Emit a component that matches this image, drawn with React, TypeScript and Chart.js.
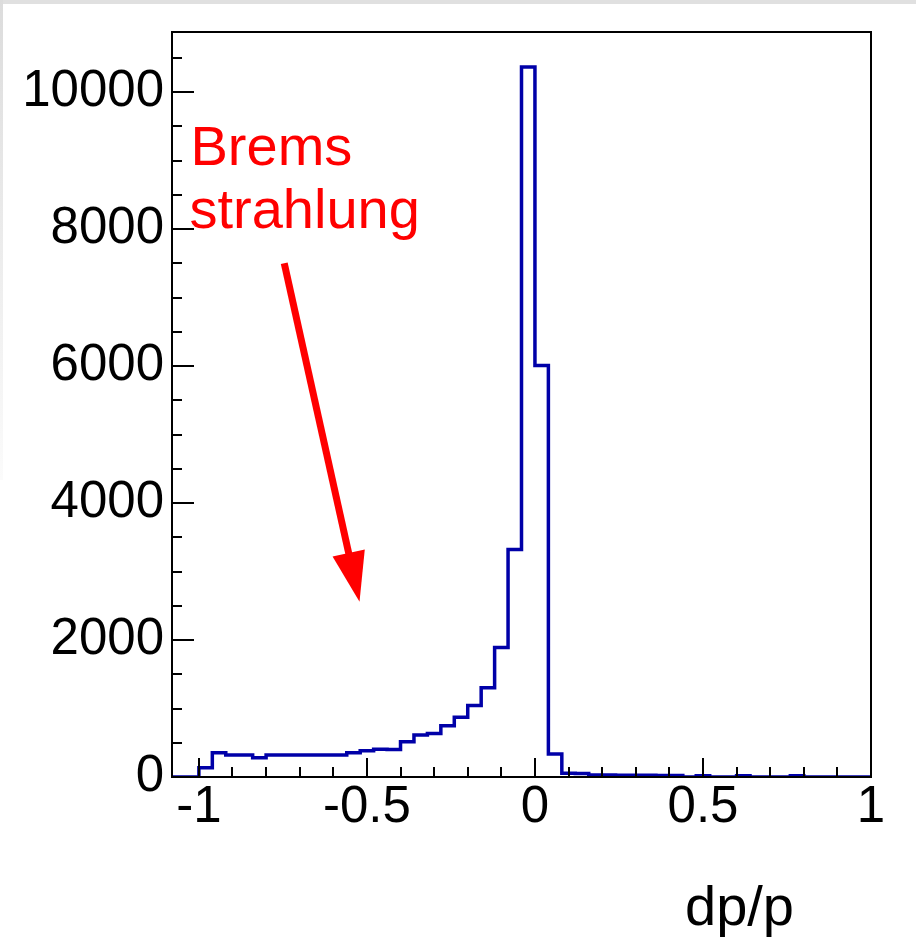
import { useEffect, useRef } from 'react';
import { Chart, registerables } from 'chart.js';

Chart.register(...registerables);

// Histogram bin lower edges (dp/p), last bin ends at binUpperEnd
const binLowEdges = [
  -1.08, -1.04, -1.0, -0.96, -0.92, -0.88, -0.84, -0.8, -0.76, -0.72,
  -0.68, -0.64, -0.6, -0.56, -0.52, -0.48, -0.44, -0.4, -0.36, -0.32,
  -0.28, -0.24, -0.2, -0.16, -0.12, -0.08, -0.04, 0.0, 0.04, 0.08,
  0.12, 0.16, 0.2, 0.24, 0.28, 0.32, 0.36, 0.4, 0.44, 0.48,
  0.52, 0.56, 0.6, 0.64, 0.68, 0.72, 0.76, 0.8, 0.84, 0.88,
  0.92, 0.96,
];
const binUpperEnd = 1.0;

// Entries per bin
const counts = [
  0, 0, 136, 355, 321, 321, 282, 321, 321, 321,
  321, 321, 321, 355, 384, 405, 400, 515, 613, 637,
  749, 871, 1046, 1304, 1893, 3324, 10370, 6010, 336, 55,
  50, 30, 28, 26, 25, 25, 22, 22, 0, 20,
  0, 0, 20, 0, 0, 0, 20, 0, 0, 0,
  0, 0,
];

const xRange = [-1.08, 1.0];
const yRange = [0, 10880];

const xMajorTicks = [-1, -0.5, 0, 0.5, 1];
const xTickLabels = ['-1', '-0.5', '0', '0.5', '1'];
const xMinorTicks = [
  -0.9, -0.8, -0.7, -0.6, -0.4, -0.3, -0.2, -0.1,
  0.1, 0.2, 0.3, 0.4, 0.6, 0.7, 0.8, 0.9,
];
const yMajorTicks = [0, 2000, 4000, 6000, 8000, 10000];
const yMinorTicks = [
  500, 1000, 1500, 2500, 3000, 3500, 4500, 5000, 5500,
  6500, 7000, 7500, 8500, 9000, 9500, 10500,
];

const xTitle = 'dp/p';
const annotationLines = ['Brems', 'strahlung'];
// annotation anchor positions in data coordinates [x, y]
const annotationTextPos = [
  [-1.025, 8934],
  [-1.028, 8015],
];
const arrowTail = [-0.746, 7504];
const arrowTip = [-0.522, 2559];

const FONT = '"Liberation Sans", Arial, Helvetica, sans-serif';

const rootStylePlugin = {
  id: 'rootStyle',
  beforeDraw(chart: any) {
    const ctx = chart.ctx;
    ctx.save();
    ctx.fillStyle = '#ffffff';
    ctx.fillRect(0, 0, chart.width, chart.height);
    ctx.fillStyle = '#e0e0e0';
    ctx.fillRect(0, 0, chart.width, 4);
    const g = ctx.createLinearGradient(0, 0, 0, 480);
    g.addColorStop(0, '#dcdcdc');
    g.addColorStop(1, '#fbfbfb');
    ctx.fillStyle = g;
    ctx.fillRect(0, 0, 3, 480);
    ctx.restore();
  },
  afterDatasetsDraw(chart: any) {
    const { ctx, chartArea: a, scales } = chart;
    const x = scales.x;
    const y = scales.y;
    ctx.save();
    ctx.strokeStyle = '#000';
    ctx.lineWidth = 2;
    ctx.beginPath();
    xMajorTicks.forEach((v) => {
      const px = Math.round(x.getPixelForValue(v));
      ctx.moveTo(px, a.bottom);
      ctx.lineTo(px, a.bottom - 19);
    });
    xMinorTicks.forEach((v) => {
      const px = Math.round(x.getPixelForValue(v));
      ctx.moveTo(px, a.bottom);
      ctx.lineTo(px, a.bottom - 10);
    });
    yMajorTicks.forEach((v) => {
      const py = Math.round(y.getPixelForValue(v));
      ctx.moveTo(a.left, py);
      ctx.lineTo(a.left + 22, py);
    });
    yMinorTicks.forEach((v) => {
      const py = Math.round(y.getPixelForValue(v));
      ctx.moveTo(a.left, py);
      ctx.lineTo(a.left + 10, py);
    });
    ctx.stroke();
    ctx.strokeRect(a.left, a.top, a.right - a.left, a.bottom - a.top);
    ctx.restore();
  },
  afterDraw(chart: any) {
    const { ctx, chartArea: a, scales } = chart;
    const x = scales.x;
    const y = scales.y;
    ctx.save();
    // annotation text
    ctx.fillStyle = '#ff0000';
    ctx.font = `56px ${FONT}`;
    ctx.textAlign = 'left';
    ctx.textBaseline = 'alphabetic';
    annotationLines.forEach((t, i) => {
      const [vx, vy] = annotationTextPos[i];
      ctx.fillText(t, x.getPixelForValue(vx), y.getPixelForValue(vy));
    });
    // arrow
    const tx = x.getPixelForValue(arrowTail[0]);
    const ty = y.getPixelForValue(arrowTail[1]);
    const hx = x.getPixelForValue(arrowTip[0]);
    const hy = y.getPixelForValue(arrowTip[1]);
    const len = Math.hypot(hx - tx, hy - ty);
    const ux = (hx - tx) / len;
    const uy = (hy - ty) / len;
    const headLen = 50;
    const headHalf = 16.5;
    const bx = hx - ux * headLen;
    const by = hy - uy * headLen;
    ctx.strokeStyle = '#ff0000';
    ctx.lineWidth = 7;
    ctx.beginPath();
    ctx.moveTo(tx, ty);
    ctx.lineTo(bx + ux * 2, by + uy * 2);
    ctx.stroke();
    ctx.beginPath();
    ctx.moveTo(hx, hy);
    ctx.lineTo(bx - uy * headHalf, by + ux * headHalf);
    ctx.lineTo(bx + uy * headHalf, by - ux * headHalf);
    ctx.closePath();
    ctx.fill();
    // x axis title
    ctx.fillStyle = '#000';
    ctx.font = `56px ${FONT}`;
    ctx.textAlign = 'left';
    ctx.textBaseline = 'alphabetic';
    ctx.fillText(xTitle, a.left + 513, a.bottom + 148);
    ctx.restore();
  },
};

export default function App() {
  const canvasRef = useRef<HTMLCanvasElement | null>(null);

  useEffect(() => {
    const canvas = canvasRef.current;
    if (!canvas) return;
    const points = binLowEdges.map((e, i) => ({ x: e, y: counts[i] }));
    points.push({ x: binUpperEnd, y: counts[counts.length - 1] });

    const chart = new Chart(canvas, {
      type: 'line',
      data: {
        datasets: [
          {
            data: points,
            stepped: 'before',
            borderColor: '#0000a8',
            borderWidth: 3.5,
            pointRadius: 0,
            fill: false,
          },
        ],
      },
      options: {
        responsive: false,
        animation: false,
        events: [],
        layout: { padding: { left: 0, right: 45, top: 32, bottom: 0 } },
        plugins: {
          legend: { display: false },
          tooltip: { enabled: false },
          title: { display: false },
        },
        scales: {
          x: {
            type: 'linear',
            min: xRange[0],
            max: xRange[1],
            grid: { display: false, drawTicks: false },
            border: { display: false },
            afterBuildTicks: (scale: any) => {
              scale.ticks = xMajorTicks.map((v) => ({ value: v }));
            },
            afterFit: (scale: any) => {
              scale.height = 166;
              scale.paddingLeft = 0;
              scale.paddingRight = 0;
            },
            ticks: {
              autoSkip: false,
              maxRotation: 0,
              padding: 0,
              color: '#000',
              font: { family: FONT, size: 51 },
              callback: (v: any) => {
                const i = xMajorTicks.indexOf(Number(v));
                return i >= 0 ? xTickLabels[i] : '';
              },
            },
          },
          y: {
            type: 'linear',
            min: yRange[0],
            max: yRange[1],
            grid: { display: false, drawTicks: false },
            border: { display: false },
            afterBuildTicks: (scale: any) => {
              scale.ticks = yMajorTicks.map((v) => ({ value: v }));
            },
            afterFit: (scale: any) => {
              scale.width = 172;
              scale.paddingTop = 0;
              scale.paddingBottom = 0;
            },
            ticks: {
              autoSkip: false,
              padding: 8,
              color: '#000',
              font: { family: FONT, size: 51 },
              callback: (v: any) => String(v),
            },
          },
        },
      },
      plugins: [rootStylePlugin],
    });

    return () => chart.destroy();
  }, []);

  return (
    <div style={{ position: 'fixed', left: 0, top: 0, width: 916, height: 943 }}>
      <canvas ref={canvasRef} width={916} height={943} style={{ width: 916, height: 943, display: 'block' }} />
    </div>
  );
}
